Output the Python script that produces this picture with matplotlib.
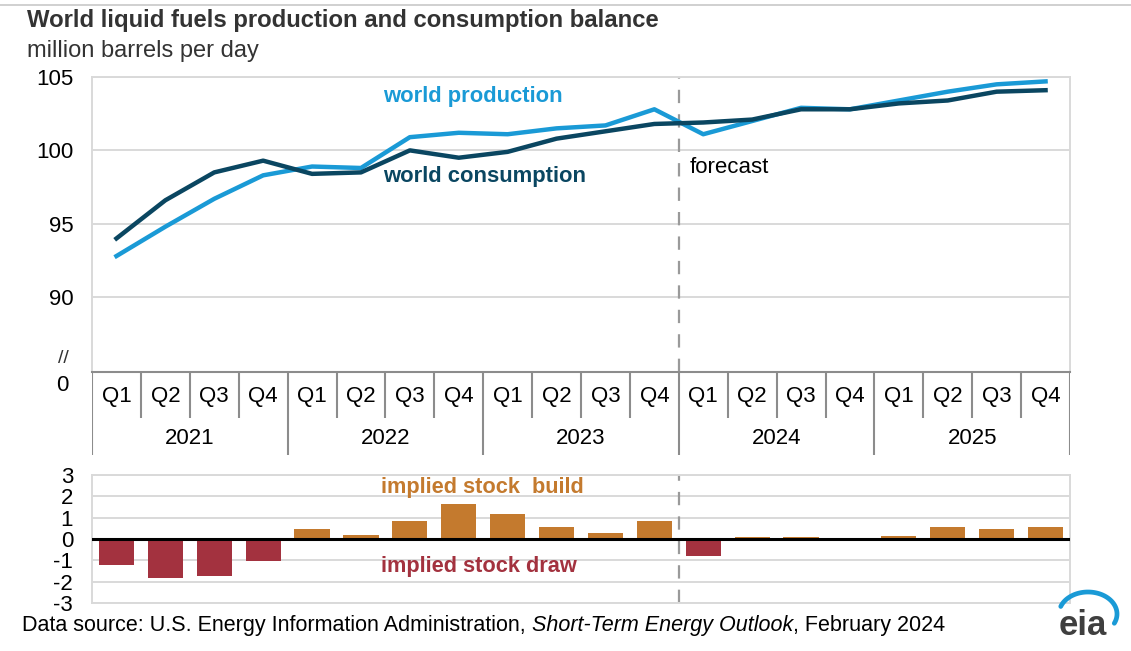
import numpy as np
import matplotlib
matplotlib.use("Agg")
import matplotlib.pyplot as plt
from matplotlib.lines import Line2D

plt.rcParams['font.family'] = ['Liberation Sans', 'DejaVu Sans']
plt.rcParams['axes.unicode_minus'] = False

# data, million barrels per day
years = ['2021', '2022', '2023', '2024', '2025']
quarters = ['Q1', 'Q2', 'Q3', 'Q4']
production = [92.8, 94.8, 96.7, 98.3, 98.9, 98.8, 100.9, 101.2, 101.1, 101.5,
              101.7, 102.8, 101.1, 102.0, 102.9, 102.8, 103.4, 104.0, 104.5, 104.7]
consumption = [94.0, 96.6, 98.5, 99.3, 98.4, 98.5, 100.0, 99.5, 99.9, 100.8,
               101.3, 101.8, 101.9, 102.1, 102.8, 102.8, 103.2, 103.4, 104.0, 104.1]
stock_change = [-1.2, -1.85, -1.75, -1.05, 0.45, 0.2, 0.85, 1.65, 1.15, 0.55,
                0.3, 0.85, -0.8, 0.1, 0.1, 0.0, 0.15, 0.55, 0.45, 0.55]
forecast_start = 11.5

c_prod = '#1a9ad6'
c_cons = '#0a4661'
c_build = '#c47a2e'
c_draw = '#a3323f'
c_grid = '#d9d9d9'

W, H = 1131, 651
def fx(px):
    return px / W
def fy(py):
    return 1 - py / H

fig = plt.figure(figsize=(W / 100, H / 100), dpi=100)
x = np.arange(len(production))
fs = 16

# top panel
ax = fig.add_axes([fx(92), fy(372), fx(1070) - fx(92), fy(77) - fy(372)])
ax.plot(x, production, color=c_prod, lw=3.2, zorder=3)
ax.plot(x, consumption, color=c_cons, lw=3.2, zorder=4)
ax.set_xlim(-0.5, 19.5)
ax.set_ylim(84.9, 105)
ax.set_yticks([90, 95, 100, 105])
ax.set_xticks([])
ax.grid(axis='y', color=c_grid, lw=1.4)
ax.tick_params(axis='y', length=0, pad=13.5, labelsize=fs)
for s in ['left', 'top', 'right']:
    ax.spines[s].set_color(c_grid)
    ax.spines[s].set_linewidth(1.4)
ax.spines['bottom'].set_color('#8c8c8c')
ax.spines['bottom'].set_linewidth(1.5)
ax.axvline(forecast_start, color='#9a9a9a', lw=1.6, dashes=(6, 5), zorder=2)
ax.text(5.45, 103.7, 'world production', color=c_prod, fontsize=15.8,
        fontweight='bold', va='center')
ax.text(5.45, 98.25, 'world consumption', color=c_cons, fontsize=15.8,
        fontweight='bold', va='center')
ax.text(11.73, 98.8, 'forecast', color='black', fontsize=16, va='center')
ax.text(-0.024, 0.045, '//', transform=ax.transAxes, ha='right', va='center',
        fontsize=14, color='#333333')
ax.text(-0.024, -0.045, '0', transform=ax.transAxes, ha='right', va='center',
        fontsize=fs, color='black')

# category axis
axc = fig.add_axes([fx(92), fy(455), fx(1070) - fx(92), fy(372) - fy(455)])
axc.set_xlim(-0.5, 19.5)
axc.set_ylim(1, 0)
axc.axis('off')
for i in range(len(production) + 1):
    top = 1.0 if i % 4 == 0 else 0.56
    axc.plot([i - 0.5, i - 0.5], [0, top], color='#8c8c8c', lw=1.5,
             solid_capstyle='butt')
for i in range(len(production)):
    axc.text(i, 0.3, quarters[i % 4], ha='center', va='center', fontsize=fs)
for j, yr in enumerate(years):
    axc.text(j * 4 + 1.5, 0.8, yr, ha='center', va='center', fontsize=fs)

# bottom panel
axb = fig.add_axes([fx(92), fy(603), fx(1070) - fx(92), fy(475) - fy(603)])
bar_colors = [c_build if v >= 0 else c_draw for v in stock_change]
axb.bar(x, stock_change, width=0.72, color=bar_colors, zorder=3)
axb.axhline(0, color='black', lw=2.2, zorder=4)
axb.set_xlim(-0.5, 19.5)
axb.set_ylim(-3, 3)
axb.set_yticks(range(-3, 4))
axb.set_yticklabels([str(v) for v in range(-3, 4)])
axb.set_xticks([])
axb.grid(axis='y', color=c_grid, lw=1.4)
axb.tick_params(axis='y', length=0, pad=13.5, labelsize=fs)
for s in axb.spines.values():
    s.set_color(c_grid)
    s.set_linewidth(1.4)
axb.axvline(forecast_start, color='#9a9a9a', lw=1.6, dashes=(6, 5), zorder=2)
axb.text(5.4, 2.4, 'implied stock  build', color=c_build, fontsize=15.7,
         fontweight='bold', va='center')
axb.text(5.4, -1.3, 'implied stock draw', color=c_draw, fontsize=15.7,
         fontweight='bold', va='center')

# title and notes
fig.add_artist(Line2D([0, 1], [fy(5), fy(5)], color='#c8c8c8', lw=1.2))
fig.text(fx(27), fy(21), 'World liquid fuels production and consumption balance',
         fontsize=17.2, fontweight='bold', color='#333333', va='center')
fig.text(fx(27), fy(51), 'million barrels per day', fontsize=17,
         color='#333333', va='center')

t1 = fig.text(fx(22), fy(626), 'Data source: U.S. Energy Information Administration, ',
              fontsize=15.5, va='center')
an2 = plt.annotate('Short-Term Energy Outlook', xy=(1, 0), xycoords=t1,
                   va='bottom', ha='left', fontsize=15.5, style='italic',
                   annotation_clip=False)
an3 = plt.annotate(', February 2024', xy=(1, 0), xycoords=an2,
                   va='bottom', ha='left', fontsize=15.5, annotation_clip=False)

# eia logo (pixel-space axes)
axl = fig.add_axes([fx(1048), fy(645), fx(1128) - fx(1048), fy(585) - fy(645)])
axl.set_xlim(1048, 1128)
axl.set_ylim(645, 585)
axl.axis('off')
ang = np.radians(np.linspace(160, -25, 80))
arc_x = 1088 + 29 * np.cos(ang)
arc_y = 614 - 22 * np.sin(ang)
axl.plot(arc_x, arc_y, color=c_prod, lw=3.4, solid_capstyle='round')
axl.text(1083, 626, 'eia', ha='center', va='center', fontsize=25,
         fontweight='bold', color='#3f3f3f')

fig.savefig('out.png', dpi=100)
